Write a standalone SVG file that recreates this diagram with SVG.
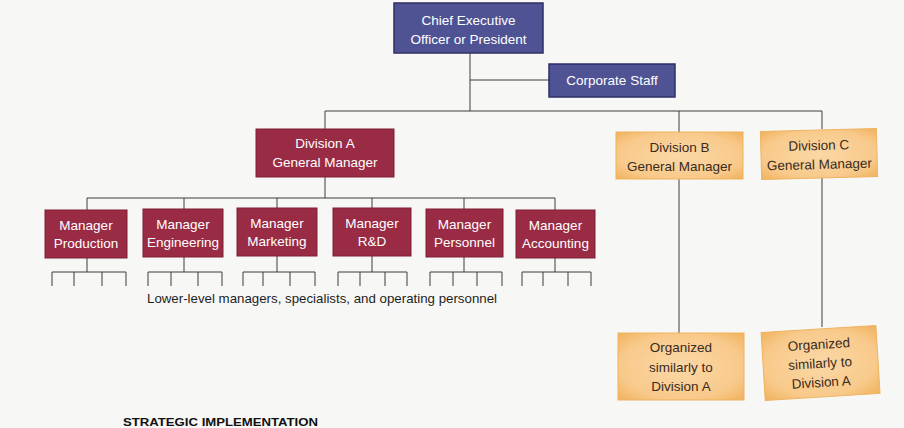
<svg xmlns="http://www.w3.org/2000/svg" width="904" height="428" viewBox="0 0 904 428">
<defs>
<radialGradient id="tan" cx="50%" cy="50%" r="70%">
<stop offset="0" stop-color="#fbd8a6"/>
<stop offset="0.7" stop-color="#f8c98a"/>
<stop offset="1" stop-color="#f0b25e"/>
</radialGradient>
<style>
.navy{fill:#4f5394;stroke:#2c2f66;stroke-width:1.5}
.maroon{fill:#9a2b45;stroke:#7e2035;stroke-width:1}
.tan{fill:url(#tan);stroke:#efb35f;stroke-width:1}
.w{fill:#ffffff;font-family:"Liberation Sans",Arial,sans-serif;font-size:13.5px;text-anchor:middle}
.d{fill:#3a2a20;font-family:"Liberation Sans",Arial,sans-serif;font-size:13.5px;text-anchor:middle}
.ln{stroke:#3c3c3c;stroke-width:1;fill:none}
</style>
</defs>
<rect x="0" y="0" width="904" height="428" fill="#f7f7f5"/>
<g id="connectors" class="ln">
<path d="M470 53V111M470 80H549"/>
<path d="M325 111H822M325 111V129M679 111V132M822 111V129"/>
<path d="M679 179V333M822 178V327"/>
<path d="M325 177V198M87 198H555M87 198V210M184 198V209M277 198V208M372 198V208M464 198V209M555 198V210"/>
<path d="M87 258V272M52 272H126M52 272V286M74 272V286M102 272V286M126 272V286"/>
<path d="M184 257V272M148 272H222M148 272V286M171 272V286M198 272V286M222 272V286"/>
<path d="M277 256V272M243 272H315M243 272V286M263 272V286M290 272V286M315 272V286"/>
<path d="M372 256V272M338 272H407M338 272V286M360 272V286M385 272V286M407 272V286"/>
<path d="M464 257V272M430 272H502M430 272V286M453 272V286M477 272V286M502 272V286"/>
<path d="M555 258V272M522 272H591M522 272V286M543 272V286M568 272V286M591 272V286"/>
</g>
<g id="ceo">
<rect class="navy" x="394" y="3" width="149" height="50"/>
<text class="w" x="468.5" y="25">Chief Executive</text>
<text class="w" x="468.5" y="44">Officer or President</text>
</g>
<g id="corporate-staff">
<rect class="navy" x="549" y="64" width="126" height="33"/>
<text class="w" x="612" y="85">Corporate Staff</text>
</g>
<g id="division-a">
<rect class="maroon" x="256" y="129" width="138" height="48"/>
<text class="w" x="325" y="148">Division A</text>
<text class="w" x="325" y="167">General Manager</text>
</g>
<g id="division-b">
<rect class="tan" x="616" y="132" width="127" height="47"/>
<text class="d" x="679.5" y="152">Division B</text>
<text class="d" x="679.5" y="171">General Manager</text>
</g>
<g id="division-c" transform="rotate(-1.5 819 154)">
<rect class="tan" x="761" y="130" width="116" height="48"/>
<text class="d" x="819" y="150">Division C</text>
<text class="d" x="819" y="169">General Manager</text>
</g>
<g id="mgr-production">
<rect class="maroon" x="45" y="210" width="82" height="48"/>
<text class="w" x="86" y="230">Manager</text>
<text class="w" x="86" y="248">Production</text>
</g>
<g id="mgr-engineering">
<rect class="maroon" x="143" y="209" width="80" height="48"/>
<text class="w" x="183" y="229">Manager</text>
<text class="w" x="183" y="247">Engineering</text>
</g>
<g id="mgr-marketing">
<rect class="maroon" x="237" y="208" width="80" height="48"/>
<text class="w" x="277" y="228">Manager</text>
<text class="w" x="277" y="246">Marketing</text>
</g>
<g id="mgr-rd">
<rect class="maroon" x="333" y="208" width="78" height="48"/>
<text class="w" x="372" y="228">Manager</text>
<text class="w" x="372" y="246">R&amp;D</text>
</g>
<g id="mgr-personnel">
<rect class="maroon" x="426" y="209" width="77" height="48"/>
<text class="w" x="464.5" y="229">Manager</text>
<text class="w" x="464.5" y="247">Personnel</text>
</g>
<g id="mgr-accounting">
<rect class="maroon" x="516" y="210" width="79" height="48"/>
<text class="w" x="555.5" y="230">Manager</text>
<text class="w" x="555.5" y="248">Accounting</text>
</g>
<g id="lower-level-label">
<text x="147" y="303" font-family="Liberation Sans, Arial, sans-serif" font-size="13.5" fill="#1e1e1e" textLength="350" lengthAdjust="spacingAndGlyphs">Lower-level managers, specialists, and operating personnel</text>
</g>
<g id="organized-b">
<rect class="tan" x="618" y="333" width="126" height="67"/>
<text class="d" x="681" y="352">Organized</text>
<text class="d" x="681" y="372">similarly to</text>
<text class="d" x="681" y="391">Division A</text>
</g>
<g id="organized-c" transform="rotate(-3.5 820 362)">
<rect class="tan" x="763" y="329" width="115" height="68"/>
<text class="d" x="820" y="349">Organized</text>
<text class="d" x="820" y="368">similarly to</text>
<text class="d" x="820" y="387">Division A</text>
</g>
<text x="123" y="426" font-family="Liberation Sans, Arial, sans-serif" font-size="10" font-weight="bold" fill="#111" textLength="195" lengthAdjust="spacingAndGlyphs">STRATEGIC IMPLEMENTATION</text>
</svg>
